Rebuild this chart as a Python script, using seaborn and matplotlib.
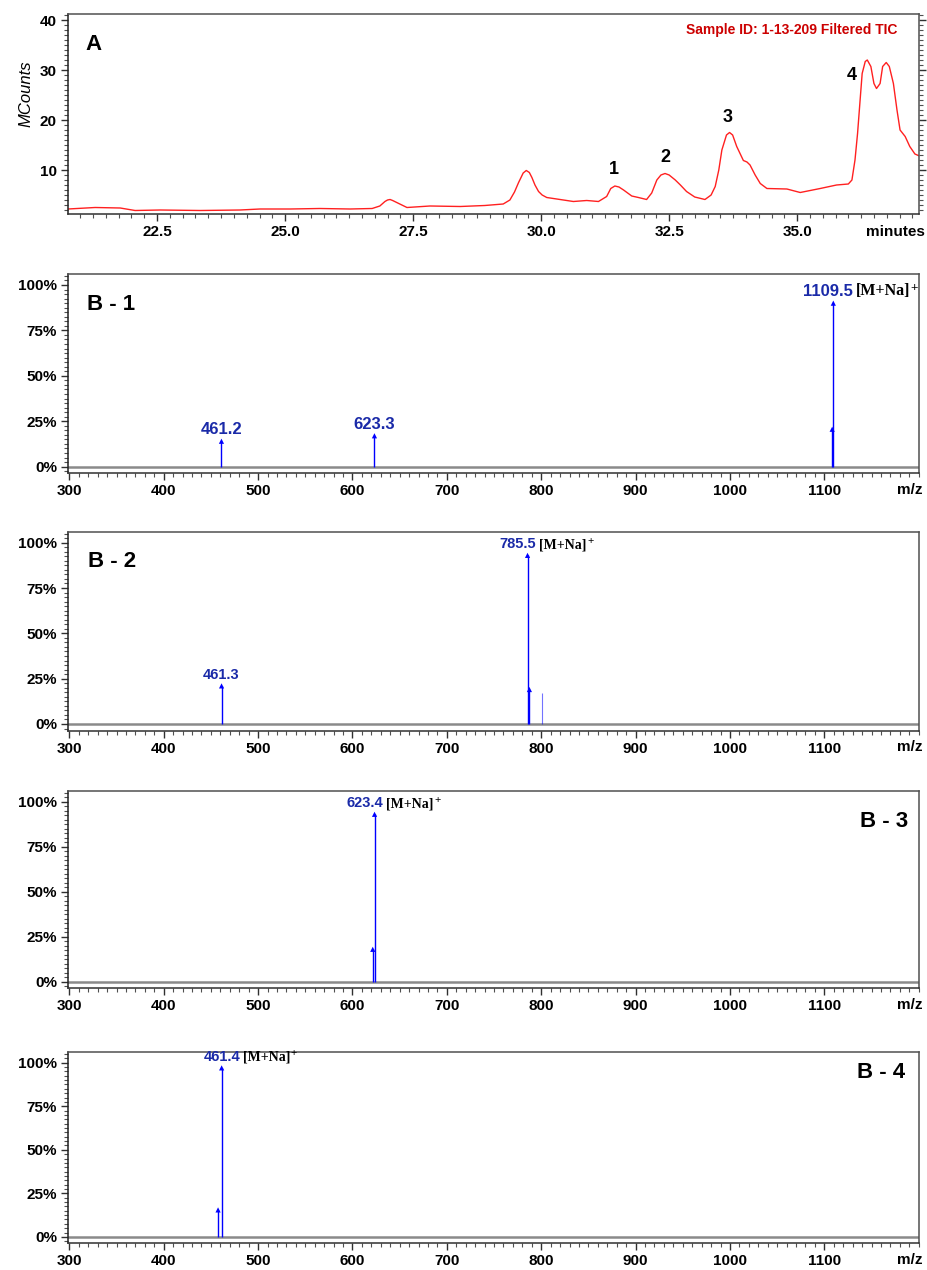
import matplotlib
matplotlib.use("Agg")
import matplotlib.pyplot as plt
import seaborn as sns
import pandas as pd
from matplotlib.ticker import MultipleLocator, FixedLocator, FuncFormatter

# ---------------- data ----------------
A_time = [20.76, 21.29, 21.78, 22.07, 22.56, 23.34, 24.12, 24.51, 25.10, 25.68, 26.27,
          26.70, 26.85, 26.95, 27.00, 27.05, 27.10, 27.20, 27.38, 27.83, 28.42, 28.90,
          29.26, 29.39, 29.48, 29.56, 29.65, 29.71, 29.77, 29.82, 29.88, 29.95, 30.02,
          30.11, 30.37, 30.63, 30.89, 31.12, 31.28, 31.36, 31.44, 31.52, 31.61, 31.77,
          31.90, 32.06, 32.16, 32.26, 32.34, 32.42, 32.50, 32.62, 32.72, 32.84, 33.00,
          33.20, 33.32, 33.40, 33.47, 33.53, 33.62, 33.68, 33.74, 33.82, 33.95, 34.02,
          34.08, 34.18, 34.28, 34.41, 34.80, 35.06, 35.45, 35.77, 36.00, 36.07, 36.13,
          36.18, 36.23, 36.27, 36.33, 36.37, 36.44, 36.50, 36.55, 36.62, 36.67, 36.74,
          36.80, 36.88, 36.95, 37.01, 37.11, 37.20, 37.30, 37.39]
A_counts = [2.2, 2.5, 2.4, 1.9, 2.0, 1.9, 2.0, 2.2, 2.2, 2.3, 2.2,
            2.3, 2.8, 3.7, 4.0, 4.1, 3.9, 3.4, 2.5, 2.8, 2.7, 2.9,
            3.2, 4.0, 5.6, 7.5, 9.4, 9.9, 9.5, 8.5, 7.0, 5.7, 5.0,
            4.5, 4.1, 3.7, 3.9, 3.7, 4.7, 6.3, 6.8, 6.6, 6.0, 4.8,
            4.5, 4.1, 5.4, 8.0, 9.0, 9.3, 9.0, 8.0, 7.0, 5.7, 4.6,
            4.1, 5.0, 6.7, 10.0, 14.0, 17.0, 17.5, 17.0, 14.7, 11.9, 11.6,
            11.0, 9.0, 7.3, 6.3, 6.2, 5.5, 6.3, 7.0, 7.2,
            8.0, 12.0, 17.3, 24.0, 29.3, 31.7, 32.0, 30.7, 27.3, 26.3, 27.3,
            30.7, 31.5, 30.7, 27.3, 22.0, 18.0, 16.7, 14.7, 13.2, 12.8]
A_peak_names = ["1", "2", "3", "4"]
A_peak_time = [31.42, 32.42, 33.65, 36.07]
A_peak_height = [10.2, 12.6, 20.6, 29.0]
A_yticks = [10, 20, 30, 40]
A_xticks = [22.5, 25.0, 27.5, 30.0, 32.5, 35.0]

B_names = ["B - 1", "B - 2", "B - 3", "B - 4"]
B1_mz = [461.2, 623.3, 1108.3, 1109.5]
B1_int = [14, 17, 20.6, 90]
B2_mz = [461.3, 785.5, 787.5, 801.2]
B2_int = [21, 93, 19, 17]
B3_mz = [621.5, 623.4]
B3_int = [18, 93]
B4_mz = [457.6, 461.4]
B4_int = [15.5, 97]
B1_labels = ["461.2", "623.3", "", "1109.5"]
B2_labels = ["461.3", "785.5", "", ""]
B3_labels = ["", "623.4"]
B4_labels = ["", "461.4"]
B1_marked = [True, True, True, True]
B2_marked = [True, True, True, False]
B3_marked = [True, True]
B4_marked = [True, True]
B1_ion = [False, False, False, True]
B2_ion = [False, True, False, False]
B3_ion = [False, True]
B4_ion = [False, True]
B_xticks = [300, 400, 500, 600, 700, 800, 900, 1000, 1100]
B_yticks = [0, 25, 50, 75, 100]

# ---------------- style ----------------
sns.set_style("ticks")
plt.rcParams["font.family"] = ["Liberation Sans", "DejaVu Sans"]
plt.rcParams["font.weight"] = "bold"
plt.rcParams["text.color"] = "black"
plt.rcParams["axes.labelcolor"] = "black"
plt.rcParams["xtick.color"] = "black"
plt.rcParams["ytick.color"] = "black"

W, H = 927, 1270
fig = plt.figure(figsize=(W / 100, H / 100), dpi=100)


def add_ax(top, bottom, left=68, right=919):
    return fig.add_axes([left / W, 1 - bottom / H, (right - left) / W, (bottom - top) / H])


def style_axes(ax):
    for s in ax.spines.values():
        s.set_color("#505050")
        s.set_linewidth(1.1)
        s.set_visible(True)
    ax.spines["left"].set_color("#202020")
    ax.spines["bottom"].set_color("#303030")
    ax.tick_params(which="major", direction="out", length=5, width=1.0, color="#303030",
                   labelsize=11, pad=3, labelcolor="black")
    ax.tick_params(which="minor", direction="out", length=3, width=0.8, color="#505050")
    for lab in ax.get_xticklabels() + ax.get_yticklabels():
        lab.set_fontweight("bold")
    ax.grid(False)
    ax.set_facecolor("white")


# ---------------- panel A ----------------
axA = add_ax(14, 214)
dfA = pd.DataFrame({"time": A_time, "counts": A_counts})
sns.lineplot(data=dfA, x="time", y="counts", ax=axA, color="#ff2020", lw=1.0,
             estimator=None, sort=False)
axA.set_xlim(20.76, 37.38)
axA.set_ylim(1.2, 41.2)
axA.xaxis.set_major_locator(FixedLocator(A_xticks))
axA.xaxis.set_major_formatter(FuncFormatter(lambda v, p: f"{v:.1f}"))
axA.xaxis.set_minor_locator(MultipleLocator(0.25))
axA.yaxis.set_major_locator(FixedLocator(A_yticks))
axA.yaxis.set_minor_locator(MultipleLocator(1))
style_axes(axA)
axA.tick_params(axis="y", which="both", right=True)
axA.set_xlabel("")
axA.set_ylabel("MCounts", fontstyle="italic", fontweight="normal", fontsize=12)
axA.yaxis.set_label_coords(-0.041, 0.6)
axA.text(0.02, 0.85, "A", transform=axA.transAxes, fontsize=16, fontweight="bold",
         ha="left", va="center")
axA.text(0.975, 0.92, "Sample ID: 1-13-209 Filtered TIC", transform=axA.transAxes,
         fontsize=10, fontweight="bold", color="#cc0000", ha="right", va="center")
for name, t, h in zip(A_peak_names, A_peak_time, A_peak_height):
    axA.text(t, h, name, fontsize=13, fontweight="bold", ha="center", va="center")
axA.annotate("minutes", xy=(1.007, 0), xycoords="axes fraction", xytext=(0, -8),
             textcoords="offset points", ha="right", va="top", fontsize=11,
             fontweight="bold")

# ---------------- panels B ----------------
B_mz = [B1_mz, B2_mz, B3_mz, B4_mz]
B_int = [B1_int, B2_int, B3_int, B4_int]
B_labels = [B1_labels, B2_labels, B3_labels, B4_labels]
B_marked = [B1_marked, B2_marked, B3_marked, B4_marked]
B_ion = [B1_ion, B2_ion, B3_ion, B4_ion]
B_box = [(274.1, 473.2), (531.8, 730.5), (790.9, 988.2), (1052.2, 1243.2)]
B_name_pos = [(0.022, 0.845, "left"), (0.023, 0.85, "left"),
              (0.987, 0.844, "right"), (0.9835, 0.893, "right")]
B_num_size = [12, 10.5, 10.5, 10.5]
B_ion_size = [11.5, 10, 10, 10]
B_num_dx = [[0, 0, 0, -4], [0, -7, 0, 0], [0, -7], [0, 0]]

for i in range(4):
    top, bot = B_box[i]
    ax = add_ax(top, bot)
    df = pd.DataFrame({"mz": B_mz[i], "int": B_int[i], "marked": B_marked[i]})
    ax.axhline(0, color="#8a8a8a", lw=1.8, zorder=1)
    for _, r in df.iterrows():
        ax.vlines(r["mz"], 0, r["int"], color="#0000ff",
                  lw=1.0 if r["marked"] else 0.8,
                  alpha=1.0 if r["marked"] else 0.55, zorder=3)
    dm = df[df["marked"]]
    sns.scatterplot(data=dm, x="mz", y="int", ax=ax, marker="^", s=14, color="#0000ff",
                    edgecolor="none", zorder=4, legend=False)
    ax.set_xlim(298.6, 1200.3)
    ax.set_ylim(-3.6, 106)
    ax.xaxis.set_major_locator(FixedLocator(B_xticks))
    ax.xaxis.set_minor_locator(MultipleLocator(10))
    ax.yaxis.set_major_locator(FixedLocator(B_yticks))
    ax.yaxis.set_major_formatter(FuncFormatter(lambda v, p: f"{v:.0f}%"))
    ax.yaxis.set_minor_locator(MultipleLocator(2.5))
    style_axes(ax)
    ax.set_xlabel("")
    ax.set_ylabel("")
    nx, ny, ha = B_name_pos[i]
    ax.text(nx, ny, B_names[i], transform=ax.transAxes, fontsize=16, fontweight="bold",
            ha=ha, va="center")
    ax.annotate("m/z", xy=(1.004, 0), xycoords="axes fraction", xytext=(0, -7),
                textcoords="offset points", ha="right", va="top", fontsize=11,
                fontweight="bold")
    for mz, it, lab, ion, dx in zip(B_mz[i], B_int[i], B_labels[i], B_ion[i], B_num_dx[i]):
        if not lab:
            continue
        t = ax.annotate(lab, xy=(mz, it), xytext=(dx, 3), textcoords="offset points",
                        ha="center", va="bottom", color="#1a2aa8",
                        fontsize=B_num_size[i], fontweight="bold")
        if ion:
            t2 = ax.annotate("[M+Na]", xy=(1, 0), xycoords=t, xytext=(2, 0),
                             textcoords="offset points", ha="left", va="bottom",
                             fontsize=B_ion_size[i], fontweight="bold",
                             family=["Liberation Serif", "DejaVu Serif"], color="black")
            ax.annotate("+", xy=(1, 1), xycoords=t2, xytext=(0.5, 1),
                        textcoords="offset points", ha="left", va="top",
                        fontsize=B_ion_size[i] - 2, fontweight="bold",
                        family=["Liberation Serif", "DejaVu Serif"], color="black")

fig.savefig("out.png", dpi=100, facecolor="white")
